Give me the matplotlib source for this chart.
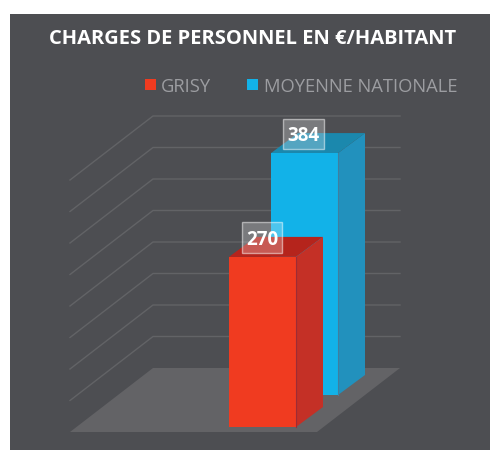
import matplotlib

matplotlib.use("Agg")
import matplotlib.pyplot as plt
from matplotlib.patches import Polygon, Rectangle

TITLE = "CHARGES DE PERSONNEL EN €/HABITANT"
SERIES = ["GRISY", "MOYENNE NATIONALE"]
VALUES = [270, 384]
TICKS = [0, 50, 100, 150, 200, 250, 300, 350, 400]

BG = "#4d4e52"
FLOOR = "#636366"
GRID = "#626366"
LEGEND_TEXT = "#9c9da1"
FRONT = ["#f03b20", "#12b2e8"]
SIDE = ["#c43026", "#2291bd"]
TOP = ["#b5241c", "#1b88ad"]
CORNER = ["#9c2c36", "#3f7f9f"]

# pixel layout of the oblique projection
PX_PER_UNIT = 0.63
WALL_BASE = 368
WALL_LEFT, WALL_RIGHT = 153, 400
FLOOR_DX, FLOOR_DY = -83, 64
BAR_LEFT = [229, 271]
BAR_BASE = [427, 395]
BAR_WIDTH = 67
DEPTH_DX, DEPTH_DY = 27, -20
LABEL_BOX = [(242, 40), (283, 41)]
LABEL_RISE = 34.5


def wall_y(value):
    return WALL_BASE - value * PX_PER_UNIT


def draw_bar(ax, i):
    x0 = BAR_LEFT[i]
    x1 = x0 + BAR_WIDTH
    base = BAR_BASE[i]
    top = base - VALUES[i] * PX_PER_UNIT
    z = 3 - i
    ax.add_patch(Polygon(
        [(x1, base), (x1 + DEPTH_DX, base + DEPTH_DY), (x1 + DEPTH_DX, top + DEPTH_DY), (x1, top)],
        facecolor=SIDE[i], edgecolor="none", zorder=z,
    ))
    ax.add_patch(Polygon(
        [(x0, top), (x1, top), (x1 + DEPTH_DX, top + DEPTH_DY), (x0 + DEPTH_DX, top + DEPTH_DY)],
        facecolor=TOP[i], edgecolor="none", zorder=z,
    ))
    ax.add_patch(Rectangle((x0, top), BAR_WIDTH, base - top, facecolor=FRONT[i], edgecolor="none", zorder=z))
    ax.plot([x1, x1], [top, base], color=CORNER[i], linewidth=0.8, zorder=z)

    box_x, box_w = LABEL_BOX[i]
    box_h = 30.5
    box_y = top - LABEL_RISE
    ax.add_patch(Rectangle((box_x, box_y), box_w, box_h, facecolor=(1, 1, 1, 0.25), edgecolor=(1, 1, 1, 0.5), linewidth=1, zorder=5))
    ax.text(box_x + box_w / 2, box_y + box_h / 2, str(VALUES[i]), color="white", fontsize=13.5, fontweight="bold", ha="center", va="center_baseline", zorder=6)


def main():
    plt.rcParams["font.family"] = ["Open Sans", "DejaVu Sans"]
    fig = plt.figure(figsize=(4.9, 4.5), dpi=100, facecolor="white")
    ax = fig.add_axes([0, 0, 1, 1])
    ax.set_xlim(0, 490)
    ax.set_ylim(450, 0)
    ax.axis("off")

    ax.add_patch(Rectangle((10, 14), 480, 436, facecolor=BG, edgecolor="none", zorder=0))

    ax.add_patch(Polygon(
        [
            (WALL_LEFT, WALL_BASE),
            (WALL_RIGHT, WALL_BASE),
            (WALL_RIGHT + FLOOR_DX, WALL_BASE + FLOOR_DY),
            (WALL_LEFT + FLOOR_DX, WALL_BASE + FLOOR_DY),
        ],
        facecolor=FLOOR, edgecolor="none", zorder=1,
    ))
    for tick in TICKS[1:]:
        y = wall_y(tick)
        ax.plot(
            [WALL_LEFT + FLOOR_DX, WALL_LEFT, WALL_RIGHT],
            [y + FLOOR_DY, y, y],
            color=GRID, linewidth=1, solid_joinstyle="miter", zorder=1,
        )

    draw_bar(ax, 1)
    draw_bar(ax, 0)

    ax.text(252.5, 37, TITLE, color="white", fontsize=14.5, fontweight="bold", ha="center", va="center_baseline")

    ax.add_patch(Rectangle((145, 79), 11, 11, facecolor=FRONT[0], edgecolor="none"))
    ax.text(161, 85, SERIES[0], color=LEGEND_TEXT, fontsize=13.2, ha="left", va="center_baseline")
    ax.add_patch(Rectangle((247, 79), 11, 11, facecolor=FRONT[1], edgecolor="none"))
    ax.text(264, 85, SERIES[1], color=LEGEND_TEXT, fontsize=13.2, ha="left", va="center_baseline")

    fig.savefig("out.png", dpi=100)


if __name__ == "__main__":
    main()
